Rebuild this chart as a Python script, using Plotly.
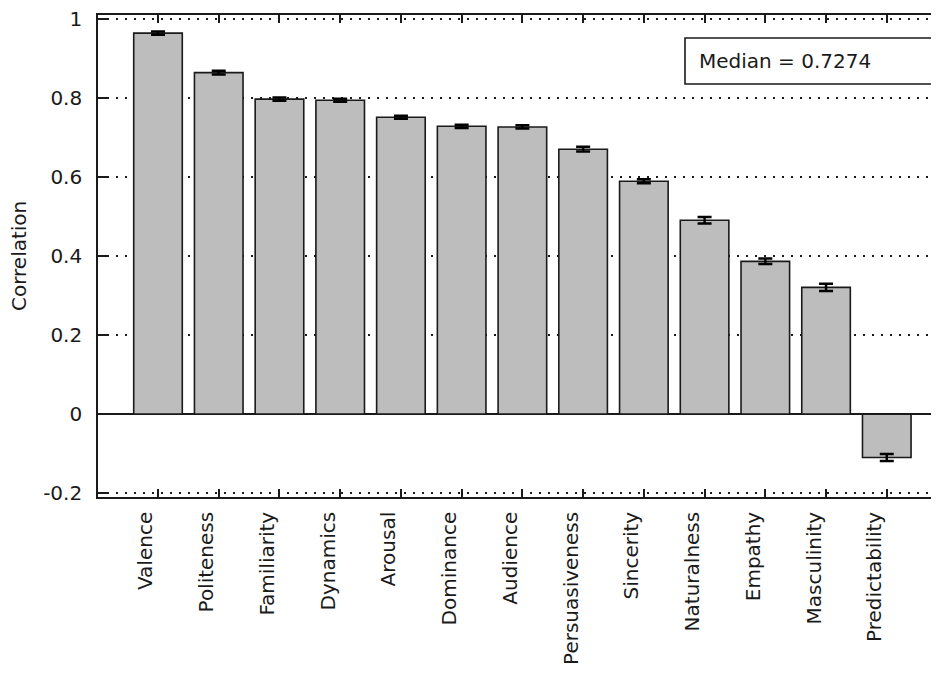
import plotly.graph_objects as go

categories = ["Valence", "Politeness", "Familiarity", "Dynamics", "Arousal", "Dominance",
              "Audience", "Persuasiveness", "Sincerity", "Naturalness", "Empathy",
              "Masculinity", "Predictability"]
values = [0.965, 0.865, 0.798, 0.795, 0.752, 0.729, 0.7274, 0.671, 0.590, 0.491, 0.387, 0.321, -0.110]
errors = [0.004, 0.005, 0.004, 0.004, 0.004, 0.004, 0.004, 0.006, 0.005, 0.008, 0.007, 0.009, 0.009]
y_tick_vals = [-0.2, 0, 0.2, 0.4, 0.6, 0.8, 1]
y_tick_text = ["-0.2", "0", "0.2", "0.4", "0.6", "0.8", "1"]
median_label = "Median = 0.7274"
y_title = "Correlation"

FONT = "DejaVu Sans"
TXT = "#1a1a1a"
x_pos = list(range(len(categories)))

fig = go.Figure()
fig.add_trace(go.Bar(
    x=x_pos, y=values,
    marker=dict(color="#bdbdbd", line=dict(color="#1a1a1a", width=1.6)),
    error_y=dict(type="data", array=errors, visible=True, color="black", thickness=2.5, width=7),
    width=0.8,
    showlegend=False,
))

fig.update_layout(
    width=931, height=672,
    margin=dict(l=90, r=0, t=7, b=183, autoexpand=False),
    paper_bgcolor="white", plot_bgcolor="white",
    font=dict(family=FONT, size=20, color=TXT),
    xaxis=dict(
        range=[-0.988, 12.86],
        tickmode="array", tickvals=x_pos, ticktext=categories,
        tickangle=-90, ticks="inside", ticklen=8, tickwidth=1.5, tickcolor="#1a1a1a",
        showline=True, linecolor="#1a1a1a", linewidth=1.6, mirror="ticks",
        showgrid=False, zeroline=False,
        ticklabelstandoff=5, ticklabelshift=-12, ticklabeloverflow="allow",
        tickfont=dict(family=FONT, size=20, color=TXT),
        automargin=False,
    ),
    yaxis=dict(
        range=[-0.21, 1.011],
        tickmode="array", tickvals=y_tick_vals, ticktext=y_tick_text,
        ticks="inside", ticklen=9, tickwidth=1.5, tickcolor="#1a1a1a",
        showline=True, linecolor="#1a1a1a", linewidth=1.6, mirror=False,
        showgrid=True, gridcolor="#1a1a1a", gridwidth=1.6, griddash="2px,7px",
        zeroline=True, zerolinecolor="#1a1a1a", zerolinewidth=1.6,
        ticklabelstandoff=10, ticklabeloverflow="allow",
        tickfont=dict(family=FONT, size=20, color=TXT),
        automargin=False,
    ),
)

# y-axis title
fig.add_annotation(
    xref="paper", yref="paper", x=(19 - 98) / 841, y=(497 - 256) / 482,
    text=y_title, textangle=-90, showarrow=False,
    xanchor="center", yanchor="middle",
    font=dict(family=FONT, size=20, color=TXT),
)

# median box
fig.add_shape(
    type="rect", xref="paper", yref="paper",
    x0=(685 - 98) / 841, x1=1.05, y0=(497 - 84) / 482, y1=(497 - 38) / 482,
    line=dict(color="#1a1a1a", width=1.6), fillcolor="white", layer="above",
)
fig.add_annotation(
    xref="paper", yref="paper", x=(697 - 98) / 841, y=(497 - 61) / 482,
    text=median_label, showarrow=False, xanchor="left", yanchor="middle",
    font=dict(family=FONT, size=20, color=TXT),
)

fig.write_html("out.html")
